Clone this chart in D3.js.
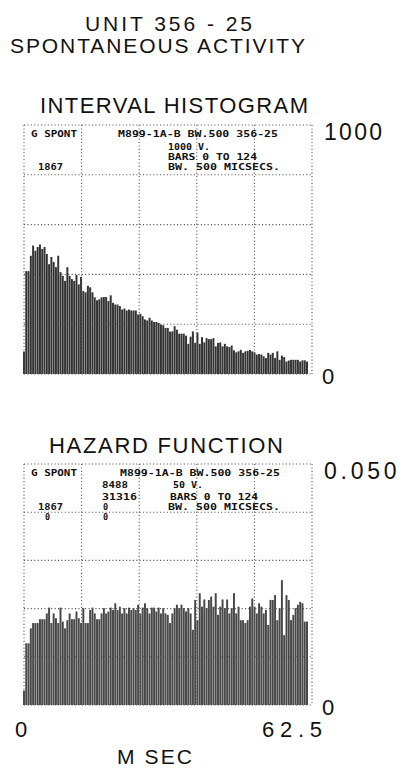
<!DOCTYPE html>
<html>
<head>
<meta charset="utf-8">
<script src="https://cdn.jsdelivr.net/npm/d3@7"></script>
<style>
  body { margin: 0; background: #fff; }
  svg { display: block; }
</style>
</head>
<body>
<script>
// interval histogram counts, bins 0..124 (0.5 ms each)
var histCounts = [90,413,413,475,516,495,510,520,502,510,
  482,441,470,450,429,475,409,394,374,429,
  394,381,374,398,360,390,333,328,354,348,
  328,308,296,300,308,309,309,293,316,286,
  279,279,273,259,263,255,259,255,255,255,
  239,242,232,219,215,226,215,209,209,205,
  198,196,185,185,170,171,192,178,162,162,
  162,154,121,150,171,125,167,121,148,127,
  144,140,140,144,111,125,127,111,121,111,
  108,114,95,87,91,97,85,91,93,97,
  91,87,78,80,78,71,64,85,78,85,
  64,91,57,74,68,50,54,57,57,57,
  57,50,55,55,50];

// hazard function, same bins
var hazardRates = [0.0030,0.0128,0.0128,0.0159,0.0170,0.0170,0.0170,0.0178,0.0178,0.0178,
  0.0190,0.0202,0.0170,0.0190,0.0180,0.0170,0.0202,0.0173,0.0159,0.0176,
  0.0190,0.0178,0.0178,0.0194,0.0180,0.0170,0.0201,0.0170,0.0170,0.0197,
  0.0202,0.0190,0.0178,0.0178,0.0190,0.0201,0.0190,0.0194,0.0202,0.0197,
  0.0211,0.0197,0.0204,0.0190,0.0201,0.0190,0.0202,0.0197,0.0201,0.0197,
  0.0208,0.0190,0.0202,0.0211,0.0201,0.0190,0.0202,0.0202,0.0194,0.0202,
  0.0190,0.0201,0.0190,0.0187,0.0170,0.0190,0.0201,0.0208,0.0201,0.0208,
  0.0201,0.0194,0.0201,0.0190,0.0156,0.0218,0.0176,0.0232,0.0204,0.0219,
  0.0201,0.0218,0.0225,0.0204,0.0232,0.0187,0.0204,0.0219,0.0201,0.0219,
  0.0190,0.0201,0.0232,0.0190,0.0204,0.0176,0.0176,0.0170,0.0176,0.0204,
  0.0221,0.0204,0.0190,0.0211,0.0204,0.0190,0.0197,0.0166,0.0218,0.0218,
  0.0228,0.0176,0.0201,0.0259,0.0145,0.0228,0.0218,0.0176,0.0187,0.0201,
  0.0208,0.0214,0.0211,0.0173,0.0173];

var xTickLabels = ["0", "62.5"];
var histTickLabels = ["0", "1000"];
var hazardTickLabels = ["0", "0.050"];

var histHeader = [
  ["G SPONT", 31, 0, 46],
  ["M899-1A-B BW.500 356-25", 118, 0, 160],
  ["1000 V.", 168, 13, 42],
  ["BARS 0 TO 124", 168, 23, 89],
  ["1867", 38, 33, 25],
  ["BW. 500 MICSECS.", 168, 33, 112]
];
var hazardHeader = [
  ["G SPONT", 31, 0, 46],
  ["M899-1A-B BW.500 356-25", 120, 0, 160],
  ["8488", 102, 12, 26],
  ["50 V.", 173, 12, 30],
  ["31316", 102, 24, 35],
  ["BARS 0 TO 124", 170, 24, 88],
  ["1867", 38, 34, 25],
  ["0", 103, 34, 0],
  ["BW. 500 MICSECS.", 168, 34, 112],
  ["0", 45, 44, 0],
  ["0", 103, 44, 0]
];

var width = 403, height = 770;
var svg = d3.select("body").append("svg")
  .attr("width", width).attr("height", height);

var bigFont = "'Liberation Sans', Arial, sans-serif";
var smallFont = "'DejaVu Sans Mono', monospace";

function bigText(str, x, y, len, size) {
  var t = svg.append("text")
    .text(str)
    .attr("x", x).attr("y", y)
    .attr("font-family", bigFont)
    .attr("font-size", size || 22)
    .attr("fill", "#111");
  if (len) t.attr("textLength", len).attr("lengthAdjust", "spacing");
  return t;
}

bigText("UNIT 356 - 25", 85, 31, 167, 21);
bigText("SPONTANEOUS ACTIVITY", 10, 53, 295, 21);
bigText("INTERVAL HISTOGRAM", 40, 113, 268, 22);
bigText("HAZARD FUNCTION", 49, 453, 234, 22);

var x = d3.scaleBand()
  .domain(d3.range(histCounts.length))
  .range([23, 308])
  .paddingInner(0.14);

var gridX = d3.scaleLinear().domain([0, 5]).range([24, 312]);

function panel(values, yMax, top, bottom, fill, header, labels) {
  var y = d3.scaleLinear().domain([0, yMax]).range([bottom, top]);
  var g = svg.append("g");

  g.selectAll("rect.bar")
    .data(values)
    .enter()
    .append("rect")
    .attr("class", "bar")
    .attr("x", function(d, i) { return x(i); })
    .attr("width", x.bandwidth())
    .attr("y", function(d) { return y(d); })
    .attr("height", function(d) { return bottom - y(d); })
    .attr("fill", fill);

  // dotted grid, 5 x 5
  var gy = d3.range(6).map(function(k) { return top + (bottom - top) * k / 5; });
  g.selectAll("line.h")
    .data(gy)
    .enter()
    .append("line")
    .attr("x1", gridX(0)).attr("x2", gridX(5))
    .attr("y1", function(d) { return d; })
    .attr("y2", function(d) { return d; })
    .attr("stroke", "#555")
    .attr("stroke-width", 1.1)
    .attr("stroke-dasharray", "1.1,2.3");
  g.selectAll("line.v")
    .data(d3.range(6))
    .enter()
    .append("line")
    .attr("x1", function(d) { return gridX(d); })
    .attr("x2", function(d) { return gridX(d); })
    .attr("y1", top).attr("y2", bottom)
    .attr("stroke", "#555")
    .attr("stroke-width", 1.1)
    .attr("stroke-dasharray", "1.1,2.3");

  // plotter header text
  header.forEach(function(h) {
    var t = g.append("text")
      .text(h[0])
      .attr("x", h[1])
      .attr("y", top + 12 + h[2])
      .attr("font-family", smallFont)
      .attr("font-weight", "bold")
      .attr("font-size", 8.5)
      .attr("fill", "#111");
    if (h[3]) t.attr("textLength", h[3]).attr("lengthAdjust", "spacingAndGlyphs");
  });

  // axis value labels
  bigText(labels[1], 324, y(yMax) + 15, labels[1].length * 14.5, 23);
  bigText(labels[0], 322, y(0) + 10, null, 22);
  return y;
}

panel(histCounts, 1000, 125, 374, "#333", histHeader, histTickLabels);
panel(hazardRates, 0.050, 464, 705, "#484848", hazardHeader, hazardTickLabels);

bigText(xTickLabels[0], 15, 737, null, 22);
bigText(xTickLabels[1], 262, 737, 60, 22);
bigText("M SEC", 117, 764, 75, 21);
</script>
</body>
</html>
